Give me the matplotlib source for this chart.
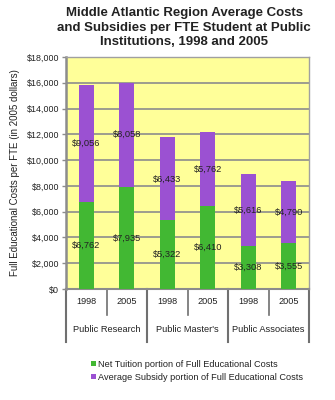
import matplotlib
matplotlib.use("Agg")
import matplotlib.pyplot as plt
from matplotlib.patches import Patch
from matplotlib.ticker import FuncFormatter, MultipleLocator

plt.rcParams['font.family'] = ['Liberation Sans', 'DejaVu Sans']

groups = ["Public Research", "Public Master's", "Public Associates"]
years = ["1998", "2005"]
net_tuition = [6762, 7935, 5322, 6410, 3308, 3555]
avg_subsidy = [9056, 8058, 6433, 5762, 5616, 4790]

title = "Middle Atlantic Region Average Costs\nand Subsidies per FTE Student at Public\nInstitutions, 1998 and 2005"
ylabel = "Full Educational Costs per FTE (in 2005 dollars)"
legend_labels = ["Net Tuition portion of Full Educational Costs",
                 "Average Subsidy portion of Full Educational Costs"]

green = "#42B833"
purple = "#9B51D2"
bg = "#FFFF99"
grid_c = "#8C8C8C"

W, H = 335, 400
fig = plt.figure(figsize=(W / 100, H / 100), dpi=100)
L, R, T, B = 66, 309, 57, 289
ax = fig.add_axes([L / W, 1 - B / H, (R - L) / W, (B - T) / H])
ax.set_facecolor(bg)

x = list(range(len(net_tuition)))
bw = 0.38
ax.bar(x, net_tuition, width=bw, color=green, zorder=3)
ax.bar(x, avg_subsidy, width=bw, bottom=net_tuition, color=purple, zorder=3)

for xi, a, b in zip(x, net_tuition, avg_subsidy):
    ax.text(xi, a / 2, f"${a:,}", ha="center", va="center", fontsize=6.7,
            color="#222222", zorder=4)
    ax.text(xi, a + b / 2, f"${b:,}", ha="center", va="center", fontsize=6.7,
            color="#222222", zorder=4)

ax.set_xlim(-0.5, 5.5)
ax.set_ylim(0, 18000)
ax.yaxis.set_major_locator(MultipleLocator(2000))
ax.yaxis.set_major_formatter(FuncFormatter(lambda v, p: f"${int(v):,}"))
ax.tick_params(axis="y", labelsize=6.4, length=3, color=grid_c, pad=2,
               labelcolor="#222222", width=1)
ax.grid(axis="y", color=grid_c, linewidth=1.2, zorder=1)
ax.set_axisbelow(True)

for s in ["top", "right"]:
    ax.spines[s].set_color("#A0A0A0")
    ax.spines[s].set_linewidth(1)
ax.spines["left"].set_color("#8C8C8C")
ax.spines["left"].set_linewidth(1.8)
ax.spines["bottom"].set_color("#8C8C8C")
ax.spines["bottom"].set_linewidth(1.5)

ax.set_xticks(x)
ax.set_xticklabels(years * len(groups), fontsize=6.6, color="#222222")
ax.tick_params(axis="x", length=0, pad=6)

ax.set_ylabel(ylabel, fontsize=7.0, color="#222222")
ax.yaxis.set_label_coords(-0.19, 0.5)

# Multi-level category axis: separators and group names
tr = ax.get_xaxis_transform()
hpx = B - T
for xb in [0.5, 2.5, 4.5]:
    ax.plot([xb, xb], [0, -(315 - B) / hpx], transform=tr, color="#707070",
            lw=1.2, clip_on=False)
for xb in [-0.5, 1.5, 3.5, 5.5]:
    ax.plot([xb, xb], [0, -(342 - B) / hpx], transform=tr, color="#707070",
            lw=1.5, clip_on=False)
for gi, g in enumerate(groups):
    ax.text(2 * gi + 0.5, -(330 - B) / hpx, g, transform=tr, ha="center",
            va="center", fontsize=6.7, color="#222222")

fig.suptitle(title, x=184 / W, y=1 - 7 / H, ha="center", va="top",
             fontsize=9.5, fontweight="bold", color="#222222", linespacing=1.3)

handles = [Patch(facecolor=green), Patch(facecolor=purple)]
fig.legend(handles, legend_labels, loc="upper left",
           bbox_to_anchor=(86 / W, 1 - 355 / H), frameon=False,
           fontsize=6.6, handlelength=0.55, handleheight=0.55,
           handletextpad=0.25, labelspacing=0.45, borderpad=0,
           labelcolor="#222222")

fig.savefig("out.png", dpi=100)
